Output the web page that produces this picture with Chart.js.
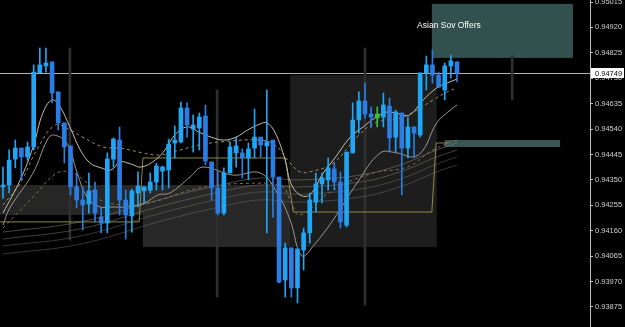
<!DOCTYPE html>
<html><head><meta charset="utf-8">
<script src="https://cdn.jsdelivr.net/npm/chart.js@4/dist/chart.umd.min.js"></script>
<style>html,body{margin:0;padding:0;background:#000;overflow:hidden}canvas{display:block}</style>
</head><body>
<canvas id="c" width="625" height="327"></canvas>
<script>
// ---- data ----
const tickValues = [0.93875,0.93970,0.94065,0.94160,0.94255,0.94350,0.94445,0.94540,0.94635,0.94730,0.94825,0.94920,0.95015];

const open = [
0.94324,0.94331,0.94428,0.94469,0.94436,0.94473,0.94750,0.94776,0.94791,0.94679,
0.94563,0.94477,0.94324,0.94275,0.94260,0.94312,0.94211,0.94189,0.94428,0.94499,
0.94275,0.94215,0.94301,0.94309,0.94312,0.94342,0.94383,0.94387,0.94488,0.94492,
0.94619,0.94540,0.94544,0.94589,0.94417,0.94320,0.94226,0.94376,0.94451,0.94451,
0.94432,0.94469,0.94510,0.94477,0.94499,0.94361,0.93976,0.94096,0.93946,0.94088,
0.94152,0.94267,0.94335,0.94350,0.94391,0.94342,0.94181,0.94451,0.94574,0.94645,
0.94596,0.94596,0.94585,0.94626,0.94510,0.94600,0.94469,0.94548,0.94518,0.94750,
0.94780,0.94742,0.94686,0.94776,0.94791];
const high = [
0.94398,0.94462,0.94499,0.94469,0.94492,0.94780,0.94843,0.94843,0.94791,0.94679,
0.94563,0.94477,0.94376,0.94324,0.94376,0.94342,0.94249,0.94451,0.94507,0.94548,
0.94312,0.94316,0.94380,0.94324,0.94376,0.94413,0.94402,0.94503,0.94552,0.94641,
0.94638,0.94593,0.94600,0.94630,0.94417,0.94380,0.94395,0.94492,0.94510,0.94466,
0.94488,0.94615,0.94510,0.94686,0.94499,0.94361,0.94114,0.94096,0.94092,0.94170,
0.94301,0.94376,0.94376,0.94432,0.94413,0.94380,0.94454,0.94638,0.94679,0.94712,
0.94623,0.94623,0.94675,0.94656,0.94611,0.94600,0.94585,0.94548,0.94750,0.94813,
0.94836,0.94753,0.94787,0.94817,0.94791];
const low = [
0.94282,0.94301,0.94395,0.94350,0.94424,0.94462,0.94750,0.94753,0.94638,0.94537,
0.94413,0.94294,0.94245,0.94163,0.94226,0.94193,0.94152,0.94152,0.94398,0.94219,
0.94129,0.94155,0.94249,0.94264,0.94301,0.94312,0.94312,0.94320,0.94432,0.94488,
0.94510,0.94454,0.94462,0.94406,0.94275,0.94219,0.94219,0.94376,0.94398,0.94357,
0.94350,0.94432,0.94436,0.94152,0.94211,0.93965,0.93912,0.93912,0.93890,0.94013,
0.94114,0.94230,0.94264,0.94312,0.94312,0.94170,0.94174,0.94451,0.94525,0.94581,
0.94544,0.94548,0.94548,0.94454,0.94454,0.94294,0.94432,0.94432,0.94510,0.94686,
0.94712,0.94694,0.94649,0.94731,0.94716];
const close = [
0.94331,0.94424,0.94469,0.94436,0.94473,0.94753,0.94780,0.94787,0.94675,0.94563,
0.94473,0.94324,0.94275,0.94256,0.94309,0.94226,0.94189,0.94428,0.94503,0.94275,
0.94219,0.94309,0.94327,0.94324,0.94342,0.94402,0.94398,0.94484,0.94499,0.94619,
0.94555,0.94555,0.94585,0.94421,0.94320,0.94226,0.94376,0.94473,0.94477,0.94432,
0.94466,0.94510,0.94481,0.94492,0.94361,0.93968,0.94096,0.93946,0.94092,0.94152,
0.94275,0.94335,0.94357,0.94395,0.94342,0.94193,0.94454,0.94574,0.94645,0.94596,
0.94585,0.94581,0.94630,0.94507,0.94604,0.94469,0.94548,0.94525,0.94750,0.94780,
0.94742,0.94697,0.94776,0.94795,0.94749];
const signalBars = [61];

// moving averages: [bar position, price]
const maFast = [[0,0.94226],[2.8,0.94350],[4.9,0.94473],[6.5,0.94600],[8.0,0.94649],[9.3,0.94623],[10.9,0.94548],[12.6,0.94462],[14.2,0.94413],[16.0,0.94395],[17.6,0.94387],[19.1,0.94417],[20.9,0.94409],[22.5,0.94398],[24.8,0.94424],[26.4,0.94462],[28.0,0.94518],[30.0,0.94548],[31.9,0.94529],[33.9,0.94510],[36.0,0.94499],[38.0,0.94510],[39.9,0.94537],[41.9,0.94559],[43.0,0.94563],[44.3,0.94529],[46.0,0.94424],[46.9,0.94338],[48.4,0.94294],[50.0,0.94294],[52.2,0.94376],[54.1,0.94432],[56.6,0.94510],[58.7,0.94548],[60.6,0.94581],[62.6,0.94604],[64.7,0.94596],[66.3,0.94593],[68.5,0.94649],[70.7,0.94694],[72.4,0.94712],[74.0,0.94727]];
const maSlow = [[0,0.94181],[1.1,0.94245],[4.9,0.94376],[7.2,0.94499],[8.2,0.94518],[10.4,0.94488],[12.1,0.94376],[13.7,0.94286],[15.8,0.94249],[17.6,0.94249],[20.4,0.94249],[23.1,0.94264],[25.3,0.94294],[27.2,0.94301],[30.5,0.94361],[32.6,0.94398],[37.5,0.94368],[41.9,0.94376],[44.7,0.94301],[46.8,0.94200],[48.7,0.94066],[50.7,0.94107],[53.8,0.94200],[57.7,0.94338],[61.5,0.94451],[64.2,0.94451],[66.8,0.94436],[68.5,0.94462],[70.7,0.94563],[72.9,0.94611],[74.0,0.94630]];
const maDash1 = [[0,0.94256],[2.8,0.94338],[5.5,0.94462],[8.5,0.94555],[10.9,0.94537],[13.0,0.94510],[16.3,0.94473],[19.1,0.94469],[22.8,0.94451],[25.6,0.94443],[28.9,0.94462],[32.1,0.94481],[35.4,0.94492],[41.9,0.94499],[44.3,0.94481],[46.8,0.94413],[48.4,0.94380],[50.0,0.94380],[53.8,0.94413],[57.7,0.94510],[60.6,0.94563],[64.7,0.94581],[67.5,0.94611],[70.1,0.94649],[72.4,0.94679],[74.0,0.94694]];
const maDash2 = [[0,0.94170],[4.9,0.94286],[8.8,0.94376],[11.2,0.94376],[13.7,0.94338],[15.8,0.94275],[20.7,0.94256],[24.0,0.94264],[32.1,0.94320],[41.9,0.94338],[45.6,0.94324],[46.8,0.94275],[48.4,0.94219],[53.8,0.94312],[60.3,0.94376],[65.9,0.94398],[70.1,0.94462],[74.0,0.94499]];
const ribbonX = [0,12.6,25.3,35.4,41.9,48.4,58.2,64.7,70.7,74.0];
const ribbon1 = [0.94155,0.94193,0.94275,0.94331,0.94357,0.94350,0.94368,0.94406,0.94462,0.94488];
const ribbon2 = [0.94129,0.94167,0.94249,0.94305,0.94331,0.94324,0.94342,0.94380,0.94436,0.94462];
const ribbon3 = [0.94103,0.94140,0.94223,0.94279,0.94305,0.94297,0.94316,0.94353,0.94409,0.94436];
const ribbon4 = [0.94073,0.94110,0.94193,0.94249,0.94275,0.94267,0.94286,0.94324,0.94380,0.94406];
const levelStep = [[-0.49,0.94193],[22.2,0.94193],[22.8,0.94432],[46.0,0.94432],[47.3,0.94230],[69.9,0.94230],[70.6,0.94488],[72.5,0.94488]];

// higher-timeframe ranges (vertical gray bars)
const htfX = [10.9,34.9,59.0,83.0];
const htfLow = [0.94125,0.93912,0.93882,0.94649];
const htfHigh = [0.94843,0.94686,0.94843,0.94813];

// zones
const zoneStart = [-0.49,22.8,46.8,69.9,72.0];
const zoneEnd = [22.8,46.8,70.7,92.9,90.8];
const zoneBottom = [0.94219,0.94099,0.94099,0.94806,0.94473];
const zoneTop = [0.94331,0.94331,0.94742,0.95008,0.94499];
const zoneLabel = {text:'Asian Sov Offers', x:67.5, price:0.94925};

const xMin = -0.49, xMax = 95.68, yMin = 0.938002, yMax = 0.950225;

// ---- styles ----
const zoneColors = ['#262626','#282828','#1d1d1d','#32504e','#3a5654'];
const BULL = '#20a6f4', BEAR = '#2b7de4', SIGNAL = '#36c23a';
const candleColors = open.map((o,i)=> signalBars.includes(i) ? SIGNAL : (close[i] >= o ? BULL : BEAR));
const pts = arr => arr.map(([x,y])=>({x,y}));
const rib = arr => arr.map((v,i)=>({x:ribbonX[i], y:v}));

const decor = {
  id:'decor',
  beforeDatasetsDraw(chart){
    const {ctx, chartArea:a, scales:{x,y}} = chart;
    ctx.save();
    ctx.beginPath(); ctx.rect(a.left,a.top,a.width,a.height); ctx.clip();
    zoneStart.forEach((s,i)=>{
      const x0 = x.getPixelForValue(s), x1 = x.getPixelForValue(zoneEnd[i]);
      const y0 = y.getPixelForValue(zoneTop[i]), y1 = y.getPixelForValue(zoneBottom[i]);
      ctx.fillStyle = zoneColors[i];
      ctx.fillRect(x0,y0,x1-x0,y1-y0);
    });
    const py = Math.round(y.getPixelForValue(close[close.length-1])) + 0.5;
    ctx.strokeStyle = '#b4b4b4'; ctx.lineWidth = 1;
    ctx.beginPath(); ctx.moveTo(a.left,py); ctx.lineTo(a.right,py); ctx.stroke();
    ctx.restore();
  },
  afterDatasetsDraw(chart){
    const {ctx, scales:{x,y}} = chart;
    ctx.save();
    ctx.fillStyle = '#ffffff';
    ctx.font = '8.5px "Liberation Sans", Arial, sans-serif';
    ctx.textBaseline = 'middle'; ctx.textAlign = 'left';
    ctx.fillText(zoneLabel.text, x.getPixelForValue(zoneLabel.x), y.getPixelForValue(zoneLabel.price));
    ctx.restore();
  },
  afterDraw(chart){
    const {ctx, chartArea:a, scales:{y}} = chart;
    const last = close[close.length-1];
    const py = Math.round(y.getPixelForValue(last));
    ctx.save();
    ctx.fillStyle = '#ffffff';
    ctx.fillRect(a.right+1, py-5, 33, 10);
    ctx.fillStyle = '#000000';
    ctx.font = '7.5px "Liberation Sans", Arial, sans-serif';
    ctx.textBaseline = 'middle'; ctx.textAlign = 'left';
    ctx.fillText(last.toFixed(5), a.right+5, py+0.5);
    ctx.restore();
  }
};

const lineDs = (data, color, dash, order) => ({
  type:'line', data, borderColor:color, borderWidth:1, borderDash:dash||[],
  pointRadius:0, tension:0.4, fill:false, order
});

new Chart(document.getElementById('c'), {
  type:'bar',
  data:{
    datasets:[
      {label:'htf', data:htfX.map((v,i)=>({x:v,y:[htfLow[i],htfHigh[i]]})), backgroundColor:'#2f2f2f', barThickness:2, grouped:false, order:20},
      lineDs(rib(ribbon4),'rgba(110,110,100,0.5)',null,10),
      lineDs(rib(ribbon3),'rgba(110,110,100,0.5)',null,10),
      lineDs(rib(ribbon2),'rgba(120,120,110,0.55)',null,10),
      lineDs(rib(ribbon1),'rgba(130,130,120,0.55)',null,10),
      {type:'line', data:pts(levelStep), borderColor:'rgba(165,155,80,0.85)', borderWidth:1, pointRadius:0, tension:0, fill:false, order:9},
      lineDs(pts(maDash2),'#80724f',[3,3],8),
      lineDs(pts(maDash1),'#9c8f68',[3,3],8),
      lineDs(pts(maSlow),'#9a978c',null,7),
      lineDs(pts(maFast),'#c4bea8',null,6),
      {label:'wicks', data:low.map((l,i)=>({x:i,y:[l,high[i]]})), backgroundColor:candleColors, barThickness:1, grouped:false, order:2},
      {label:'bodies', data:open.map((o,i)=>({x:i,y:[o,close[i]]})), backgroundColor:candleColors, barThickness:4, grouped:false, order:1, minBarLength:1}
    ]
  },
  options:{
    responsive:false, animation:false, events:[],
    layout:{padding:0},
    plugins:{legend:{display:false}, tooltip:{enabled:false}},
    scales:{
      x:{type:'linear', min:xMin, max:xMax, offset:false, display:false},
      y:{position:'right', min:yMin, max:yMax,
         afterBuildTicks(s){ s.ticks = tickValues.map(v=>({value:v})); },
         afterFit(s){ s.width = 35; s.paddingTop = 0; s.paddingBottom = 0; },
         grid:{display:true, drawOnChartArea:false, drawTicks:true, tickLength:3, color:'#bdbdbd'},
         border:{display:true, color:'#bdbdbd'},
         ticks:{color:'#cfcfcf', padding:2, font:{family:'"Liberation Sans", Arial, sans-serif', size:7.5},
                callback:v=>Number(v).toFixed(5)}
      }
    }
  },
  plugins:[decor]
});
</script>
</body></html>
